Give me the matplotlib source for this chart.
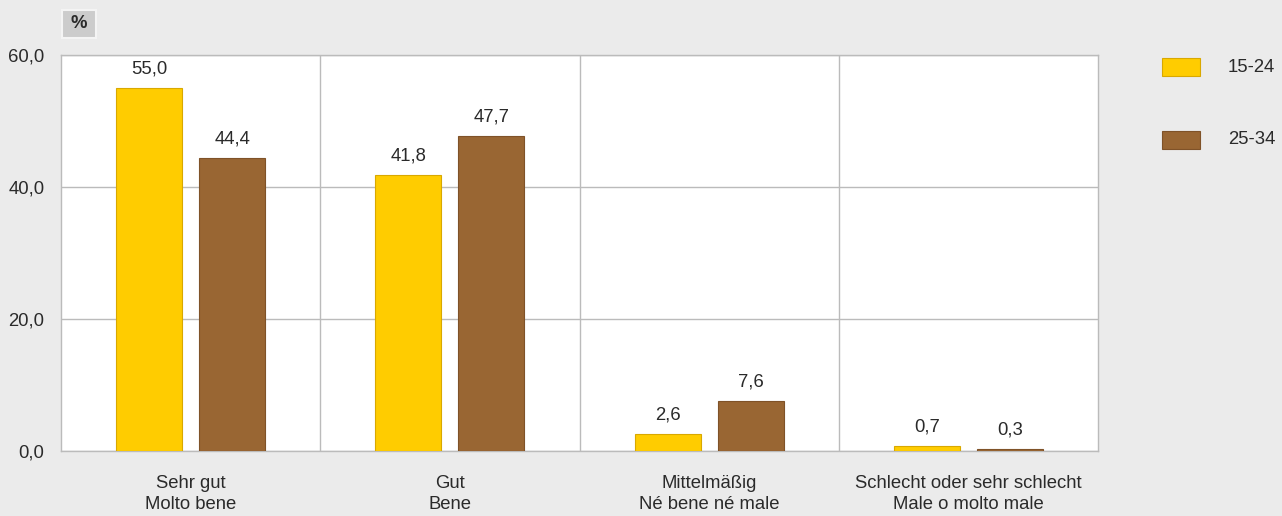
import numpy as np
import matplotlib.pyplot as plt
from matplotlib.patches import Rectangle

categories = ["Sehr gut\nMolto bene", "Gut\nBene",
              "Mittelmäßig\nNé bene né male",
              "Schlecht oder sehr schlecht\nMale o molto male"]
series = ["15-24", "25-34"]
vals_15_24 = [55.0, 41.8, 2.6, 0.7]
vals_25_34 = [44.4, 47.7, 7.6, 0.3]
yticks = [0, 20, 40, 60]

plt.rcParams['font.family'] = ['Liberation Sans', 'DejaVu Sans']
bg = "#ebebeb"
txt = "#2a2a2a"
fs = 13.3
fig = plt.figure(figsize=(12.82, 5.16), dpi=100, facecolor=bg)
ax = fig.add_axes([0.0476, 0.126, 0.8089, 0.7674])
ax.set_facecolor("white")

x = np.arange(len(categories))
w = 0.255
off = 0.16
colors = ["#ffcc00", "#996633"]
edges = ["#d9a800", "#7f5228"]
for vals, dx, c, e, name in [(vals_15_24, -off, colors[0], edges[0], series[0]),
                             (vals_25_34, off, colors[1], edges[1], series[1])]:
    bars = ax.bar(x + dx, vals, width=w, color=c, edgecolor=e, linewidth=0.8,
                  label=name, zorder=3)
    for b, v in zip(bars, vals):
        ax.text(b.get_x() + b.get_width() / 2, v + 1.6, f"{v:.1f}".replace(".", ","),
                ha="center", va="bottom", fontsize=fs, color=txt)

ax.set_xlim(-0.5, len(categories) - 0.5)
ax.set_ylim(0, 60)
ax.set_yticks(yticks)
ax.set_yticklabels([f"{t:.1f}".replace(".", ",") for t in yticks], fontsize=fs, color=txt)
ax.set_xticks(x)
ax.set_xticklabels(categories, fontsize=fs, color=txt, linespacing=1.35)
ax.tick_params(axis="both", length=0)
ax.tick_params(axis="y", pad=12)
ax.tick_params(axis="x", pad=17)
ax.yaxis.grid(True, color="#bbbbbb", linewidth=1, zorder=0)
for sep in x[:-1] + 0.5:
    ax.axvline(sep, color="#bbbbbb", linewidth=1, zorder=0)
for s in ax.spines.values():
    s.set_color("#bbbbbb")
    s.set_linewidth(1)

# "%" box
fig.patches.append(Rectangle((62 / 1282, 1 - 38 / 516), 34 / 1282, 28 / 516,
                             transform=fig.transFigure, facecolor="#cccccc",
                             edgecolor="#f4f4f4", linewidth=1.5))
fig.text(79 / 1282, 1 - 24 / 516, "%", ha="center", va="center", fontsize=fs,
         fontweight="bold", color=txt)

# legend
for i, (name, c, e) in enumerate(zip(series, colors, edges)):
    yc = 1 - (67 + i * 73) / 516
    fig.patches.append(Rectangle((1162 / 1282, yc - 9 / 516), 38 / 1282, 18 / 516,
                                 transform=fig.transFigure, facecolor=c,
                                 edgecolor=e, linewidth=0.8))
    fig.text(1228 / 1282, yc, name, ha="left", va="center", fontsize=fs, color=txt)

fig.savefig("out.png", dpi=100, facecolor=bg)
